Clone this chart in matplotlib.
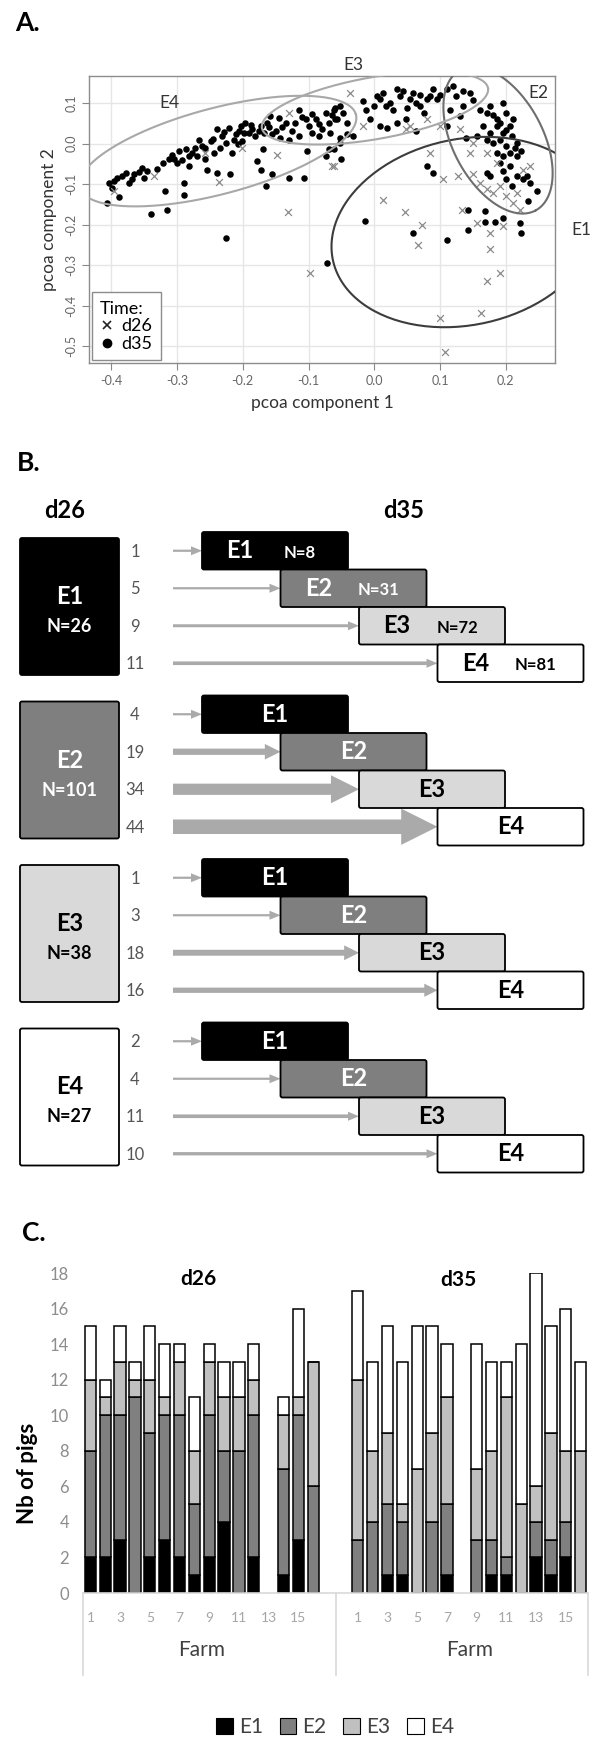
import numpy as np
import matplotlib.pyplot as plt
import matplotlib.transforms as mtransforms
from matplotlib.patches import FancyBboxPatch, FancyArrow, Patch
from matplotlib.lines import Line2D

plt.rcParams['font.family'] = ['Lato', 'DejaVu Sans']

W, H = 600, 1739

# ---------------- panel A data (pcoa components) ----------------
d35_points = [
    (-0.406, -0.146), (-0.389, -0.131), (-0.404, -0.097), (-0.396, -0.093), (-0.391, -0.084),
    (-0.384, -0.080), (-0.378, -0.072), (-0.373, -0.097), (-0.366, -0.076), (-0.353, -0.060),
    (-0.351, -0.084), (-0.330, -0.062), (-0.319, -0.117), (-0.315, -0.163), (-0.340, -0.175),
    (-0.290, -0.097), (-0.290, -0.126), (-0.282, -0.056), (-0.305, -0.039), (-0.300, -0.049),
    (-0.312, -0.037), (-0.297, -0.019), (-0.287, -0.014), (-0.277, -0.023), (-0.267, 0.010),
    (-0.262, -0.006), (-0.257, -0.039), (-0.254, -0.064), (-0.239, -0.072), (-0.219, -0.076),
    (-0.239, 0.035), (-0.231, 0.019), (-0.226, 0.002), (-0.221, 0.039), (-0.216, -0.023),
    (-0.211, 0.023), (-0.203, 0.043), (-0.201, 0.006), (-0.196, 0.051), (-0.191, 0.027),
    (-0.186, 0.035), (-0.181, 0.019), (-0.173, 0.043), (-0.170, -0.014), (-0.178, -0.043),
    (-0.173, -0.064), (-0.165, -0.105), (-0.155, -0.076), (-0.130, -0.084), (-0.107, -0.084),
    (-0.226, -0.233), (-0.072, -0.294), (-0.102, -0.019), (-0.074, -0.031), (-0.069, -0.014),
    (-0.084, 0.019), (-0.130, 0.010), (-0.115, 0.019), (-0.150, 0.031), (-0.158, 0.068),
    (-0.145, 0.064), (-0.135, 0.051), (-0.120, 0.051), (-0.115, 0.084), (-0.104, 0.060),
    (-0.099, 0.043), (-0.089, 0.060), (-0.079, 0.035), (-0.074, 0.076), (-0.069, 0.051),
    (-0.059, 0.088), (-0.059, 0.060), (-0.155, 0.023), (-0.143, 0.014), (-0.307, -0.027),
    (-0.282, -0.031), (-0.272, -0.010), (-0.249, 0.006), (-0.244, -0.023), (-0.234, -0.010),
    (-0.208, -0.002), (-0.198, 0.027), (-0.168, 0.027), (-0.163, 0.051), (-0.125, 0.031),
    (-0.094, 0.027), (-0.368, -0.088), (-0.399, -0.109),
    (-0.358, -0.070), (-0.345, -0.068), (-0.322, -0.048), (-0.292, -0.040), (-0.270, -0.030),
    (-0.258, -0.012), (-0.246, 0.012), (-0.228, 0.028), (-0.214, 0.010), (-0.206, 0.032),
    (-0.188, 0.046), (-0.176, 0.030), (-0.160, 0.040), (-0.140, 0.040), (-0.110, 0.066),
    (-0.095, 0.072), (-0.084, 0.048), (-0.064, 0.070),
    (-0.062, 0.084), (-0.052, 0.093), (-0.047, 0.076), (-0.057, 0.060), (-0.042, 0.051),
    (-0.067, 0.027), (-0.052, 0.014), (-0.042, 0.023), (-0.032, 0.019), (-0.052, 0.002),
    (-0.062, -0.014), (-0.050, -0.039), (-0.017, 0.105), (-0.012, 0.084), (-0.007, 0.060),
    (-0.001, 0.093), (0.009, 0.109), (0.014, 0.126), (0.024, 0.101), (0.029, 0.084),
    (0.034, 0.134), (0.039, 0.117), (0.044, 0.130), (0.054, 0.109), (0.059, 0.126),
    (0.064, 0.101), (0.069, 0.121), (0.075, 0.076), (0.080, 0.109), (0.085, 0.117),
    (0.090, 0.134), (0.095, 0.109), (0.009, 0.043), (0.019, 0.039), (0.034, 0.051),
    (0.049, 0.060), (0.064, 0.031), (0.110, 0.134), (0.120, 0.142), (0.125, 0.117),
    (0.135, 0.130), (0.145, 0.126), (0.115, 0.084), (0.130, 0.068), (0.135, 0.093),
    (0.110, 0.043), (0.140, 0.014), (0.156, 0.019), (0.161, 0.084), (0.171, 0.076),
    (0.176, 0.093), (0.186, 0.060), (0.196, 0.101), (0.201, 0.076), (0.166, 0.043),
    (0.176, 0.027), (0.186, 0.043), (0.196, 0.027), (0.206, 0.043), (0.211, 0.060),
    (0.171, 0.010), (0.181, 0.002), (0.191, 0.010), (0.201, -0.006), (0.209, 0.019),
    (0.217, 0.002), (0.186, -0.023), (0.196, -0.031), (0.206, -0.023), (0.217, -0.031),
    (0.224, -0.019), (0.171, -0.072), (0.176, -0.080), (0.191, -0.047), (0.196, -0.068),
    (0.206, -0.056), (0.217, -0.080), (0.227, -0.088), (0.232, -0.080), (0.237, -0.097),
    (0.247, -0.117), (0.234, -0.142), (0.201, -0.088), (0.209, -0.105), (0.080, -0.056),
    (0.090, -0.072), (-0.014, -0.191), (0.059, -0.222), (0.110, -0.237), (0.143, -0.214),
    (0.143, -0.163), (0.168, -0.167), (0.168, -0.193), (0.184, -0.193), (0.196, -0.183),
    (0.222, -0.196), (0.224, -0.220),
    (0.004, 0.118), (0.018, 0.092), (0.050, 0.088), (0.070, 0.094), (0.100, 0.120),
    (0.150, 0.108), (0.181, 0.070), (0.191, 0.050), (0.201, 0.034), (0.214, -0.012),
]
d26_points = [
    (-0.335, -0.079), (-0.236, -0.095), (-0.148, -0.027), (-0.131, -0.169), (-0.064, -0.056),
    (-0.097, -0.319), (-0.257, -0.023), (-0.201, -0.010), (-0.130, 0.076), (-0.396, -0.117),
    (-0.037, 0.126), (-0.017, 0.043), (-0.062, -0.056), (0.085, -0.023), (0.105, -0.088),
    (0.128, -0.080), (0.014, -0.139), (0.047, -0.169), (0.072, -0.201), (0.067, -0.251),
    (0.133, -0.164), (0.145, -0.023), (0.151, -0.076), (0.176, -0.220), (0.176, -0.260),
    (0.171, -0.339), (0.191, -0.319), (0.163, -0.418), (0.100, -0.432), (0.108, -0.516),
    (0.161, -0.097), (0.171, -0.113), (0.181, -0.121), (0.191, -0.105), (0.201, -0.130),
    (0.211, -0.146), (0.217, -0.121), (0.227, -0.064), (0.237, -0.056), (0.222, -0.163),
    (0.196, -0.204), (0.156, -0.195), (0.186, -0.047), (0.151, 0.002), (0.171, -0.023),
    (0.130, 0.035), (0.100, 0.043), (0.080, 0.060), (0.054, 0.043), (0.049, 0.035),
]

ell_names = ['E1', 'E2', 'E3', 'E4']
ell_centres = [(0.138, -0.2185), (0.1883, 0.0086), (0.0011, 0.0877), (-0.2379, -0.0185)]
ell_major = [(0.2009, 0.0694), (0.0572, -0.1738), (0.172, 0.0494), (0.2100, 0.0901)]
ell_minor = [(0.0294, -0.2247), (0.0603, 0.0523), (0.0082, -0.0753), (0.0167, -0.1027)]
ell_label_pos = [(0.315, -0.214), (0.249, 0.125), (-0.031, 0.194), (-0.312, 0.100)]
ell_colors = ['#3c3c3c', '#6e6e6e', '#a8a8a8', '#a8a8a8']

xticks_a = [-0.4, -0.3, -0.2, -0.1, 0.0, 0.1, 0.2]
yticks_a = [-0.5, -0.4, -0.3, -0.2, -0.1, 0.0, 0.1]

# ---------------- panel B data ----------------
clusters = ['E1', 'E2', 'E3', 'E4']
n_d26 = [26, 101, 38, 27]
n_d35 = [8, 31, 72, 81]
transitions = [[1, 5, 9, 11],
               [4, 19, 34, 44],
               [1, 3, 18, 16],
               [2, 4, 11, 10]]

# ---------------- panel C data (stacked counts per farm) ----------------
farms = list(range(1, 17))
d26_e1 = [2, 2, 3, 0, 2, 3, 2, 1, 2, 4, 0, 2, np.nan, 1, 3, 0]
d26_e2 = [6, 8, 7, 11, 7, 7, 8, 4, 8, 4, 8, 8, np.nan, 6, 7, 6]
d26_e3 = [4, 1, 3, 1, 3, 1, 3, 3, 3, 3, 3, 2, np.nan, 3, 1, 7]
d26_e4 = [3, 1, 2, 1, 3, 3, 1, 3, 1, 2, 2, 2, np.nan, 1, 5, 0]
d35_e1 = [0, 0, 1, 1, 0, 0, 1, np.nan, 0, 1, 1, 0, 2, 1, 2, 0]
d35_e2 = [3, 4, 4, 3, 0, 4, 4, np.nan, 3, 2, 1, 0, 2, 2, 2, 0]
d35_e3 = [9, 4, 4, 1, 7, 5, 6, np.nan, 4, 5, 9, 5, 2, 6, 4, 8]
d35_e4 = [5, 5, 6, 8, 8, 6, 3, np.nan, 7, 5, 2, 9, 12, 6, 8, 5]

box_fill = ['#000000', '#7f7f7f', '#d9d9d9', '#ffffff']
box_text = ['white', 'white', 'black', 'black']
bar_fill = ['#000000', '#808080', '#c0c0c0', '#ffffff']

fig = plt.figure(figsize=(W / 100, H / 100), dpi=100)

# overlay in pixel units for the diagram and panel letters
ov = fig.add_axes([0, 0, 1, 1], zorder=0)
ov.set_xlim(0, W)
ov.set_ylim(H, 0)
ov.axis('off')

def px_rect(x0, y0, x1, y1):
    return [x0 / W, 1 - y1 / H, (x1 - x0) / W, (y1 - y0) / H]

for lab, (x, y) in zip(['A.', 'B.', 'C.'], [(15, 23), (17, 463), (22, 1233)]):
    ov.text(x, y, lab, fontsize=19, weight='bold', ha='left', va='center')

# ---------------- panel A ----------------
axa = fig.add_axes(px_rect(89, 76, 555, 363))
axa.set_xlim(-0.434, 0.275)
axa.set_ylim(-0.542, 0.167)
for v in xticks_a:
    axa.axvline(v, color='#e6e6e6', lw=1.0, zorder=0)
for v in yticks_a:
    axa.axhline(v, color='#e6e6e6', lw=1.0, zorder=0)

px26 = [p[0] for p in d26_points]
py26 = [p[1] for p in d26_points]
px35 = [p[0] for p in d35_points]
py35 = [p[1] for p in d35_points]
axa.scatter(px35, py35, s=22, c='black', marker='o', lw=0, zorder=3)
axa.scatter(px26, py26, s=24, c='#8a8a8a', marker='x', lw=0.9, zorder=4)

t = np.linspace(0, 2 * np.pi, 200)
for name, c, a, b, col, lp in zip(ell_names, ell_centres, ell_major, ell_minor,
                                  ell_colors, ell_label_pos):
    ex = c[0] + a[0] * np.cos(t) + b[0] * np.sin(t)
    ey = c[1] + a[1] * np.cos(t) + b[1] * np.sin(t)
    axa.plot(ex, ey, color=col, lw=1.5, zorder=5)
    axa.text(lp[0], lp[1], name, fontsize=12.5, color='#333333', ha='center', va='center',
             clip_on=False)

axa.set_xticks(xticks_a)
axa.set_xticklabels([f'{v:.1f}' for v in xticks_a])
axa.set_yticks(yticks_a)
axa.set_yticklabels([f'{v:.1f}' for v in yticks_a], rotation=90, va='center')
axa.tick_params(colors='#888888', labelcolor='#666666', labelsize=9, length=5, width=0.8)
for s in axa.spines.values():
    s.set_color('#8c8c8c')
    s.set_linewidth(1.0)
axa.set_xlabel('pcoa component 1', fontsize=12.5, color='#333333', labelpad=6)
axa.set_ylabel('pcoa component 2', fontsize=12.5, color='#333333', labelpad=6)

handles = [Line2D([], [], ls='none', marker='x', color='#222222', ms=6, mew=1.2),
           Line2D([], [], ls='none', marker='o', color='black', ms=6)]
leg = axa.legend(handles, ['d26', 'd35'], title='Time:', loc='lower left',
                 bbox_to_anchor=(0.0, 0.0), borderaxespad=0.15, fontsize=13,
                 title_fontsize=13, alignment='left', fancybox=False,
                 edgecolor='#8c8c8c', framealpha=1, handlelength=0.8,
                 handletextpad=0.4, labelspacing=0.1, borderpad=0.45)
leg.get_frame().set_linewidth(1.0)
leg.set_zorder(10)

# ---------------- panel B ----------------
ov.text(65, 510, 'd26', fontsize=17, weight='bold', ha='center', va='center')
ov.text(404, 510, 'd35', fontsize=17, weight='bold', ha='center', va='center')

b_top0, b_step = 532, 163.5
row_h = 37.5
box_w = 146
box_x0, box_dx = 202, 78.5
arrow_x0 = 173
for g in range(4):
    top = b_top0 + g * b_step
    ov.add_patch(FancyBboxPatch((20, top + 6), 99, 137,
                                boxstyle='round,pad=0,rounding_size=2',
                                fc=box_fill[g], ec='black', lw=1.3, zorder=3))
    cy = top + 6 + 137 / 2
    ov.text(69.5, cy - 10, clusters[g], color=box_text[g], fontsize=17,
            weight='bold', ha='center', va='center', zorder=4)
    ov.text(69.5, cy + 20, f'N={n_d26[g]}', color=box_text[g], fontsize=13,
            weight='bold', ha='center', va='center', zorder=4)
    for j in range(4):
        bx = box_x0 + j * box_dx
        by = top + j * row_h
        ov.add_patch(FancyBboxPatch((bx, by), box_w, row_h,
                                    boxstyle='round,pad=0,rounding_size=2',
                                    fc=box_fill[j], ec='black', lw=1.3, zorder=3))
        yc = by + row_h / 2
        n = transitions[g][j]
        ov.text(135, yc + 1, str(n), fontsize=12, color='#555555',
                ha='center', va='center')
        shaft = max(2.2, 0.33 * n)
        head_w = max(9.0, 2.5 * shaft)
        head_l = max(11.0, 1.0 * head_w)
        ov.add_patch(FancyArrow(arrow_x0, yc, bx - arrow_x0, 0, width=shaft,
                                head_width=head_w, head_length=head_l,
                                length_includes_head=True, color='#aaaaaa',
                                lw=0, zorder=2))
        if g == 0:
            ov.text(bx + 38, yc, clusters[j], color=box_text[j], fontsize=17,
                    weight='bold', ha='center', va='center', zorder=4)
            ov.text(bx + 98, yc + 2, f'N={n_d35[j]}', color=box_text[j],
                    fontsize=12, weight='bold', ha='center', va='center', zorder=4)
        else:
            ov.text(bx + box_w / 2, yc, clusters[j], color=box_text[j],
                    fontsize=17, weight='bold', ha='center', va='center', zorder=4)

# ---------------- panel C ----------------
axc = fig.add_axes(px_rect(83, 1273, 588, 1593))
pos26 = np.arange(16)
pos35 = np.arange(16) + 18
for pos, stacks in [(pos26, [d26_e1, d26_e2, d26_e3, d26_e4]),
                    (pos35, [d35_e1, d35_e2, d35_e3, d35_e4])]:
    bottom = np.zeros(16)
    for vals, col in zip(stacks, bar_fill):
        v = np.array(vals, dtype=float)
        ok = ~np.isnan(v)
        axc.bar(pos[ok], v[ok], bottom=bottom[ok], width=0.76, color=col,
                edgecolor='black', lw=1.1)
        bottom[ok] += v[ok]

axc.set_xlim(-0.5, 33.5)
axc.set_ylim(0, 18)
axc.set_yticks(range(0, 19, 2))
axc.tick_params(axis='y', length=0, labelsize=12, labelcolor='#8c8c8c', pad=10)
tick_pos = list(pos26[::2]) + list(pos35[::2])
tick_lab = [str(f) for f in farms[::2]] * 2
axc.set_xticks(tick_pos)
axc.set_xticklabels(tick_lab)
axc.tick_params(axis='x', length=0, labelsize=10, labelcolor='#a6a6a6', pad=14)
for s in ['left', 'right', 'top']:
    axc.spines[s].set_visible(False)
axc.spines['bottom'].set_color('#d9d9d9')
axc.spines['bottom'].set_linewidth(1.2)

blend = mtransforms.blended_transform_factory(axc.transData, axc.transAxes)
for xs in [-0.5, 16.5, 33.5]:
    axc.plot([xs, xs], [0, -0.256], color='#d9d9d9', lw=1.2, transform=blend,
             clip_on=False)
for xc in [7.5, 25.5]:
    axc.text(xc, -0.178, 'Farm', transform=blend, fontsize=15, color='#404040',
             ha='center', va='center')

fig.text(198 / W, 1 - 1279 / H, 'd26', fontsize=15, weight='bold', ha='center',
         va='center', zorder=20)
fig.text(458 / W, 1 - 1280 / H, 'd35', fontsize=15, weight='bold', ha='center',
         va='center', zorder=20)
ov.text(27, 1473, 'Nb of pigs', fontsize=16, weight='bold', rotation=90,
        ha='center', va='center')

leg_handles = [Patch(fc=c, ec='black', lw=0.8) for c in bar_fill]
fig.legend(leg_handles, clusters, loc='center', bbox_to_anchor=(335 / W, 1 - 1727 / H),
           ncol=4, frameon=False, handlelength=0.8, handleheight=0.8,
           handletextpad=0.3, columnspacing=0.8, fontsize=15, labelcolor='#404040')

fig.savefig('out.png', dpi=100)
